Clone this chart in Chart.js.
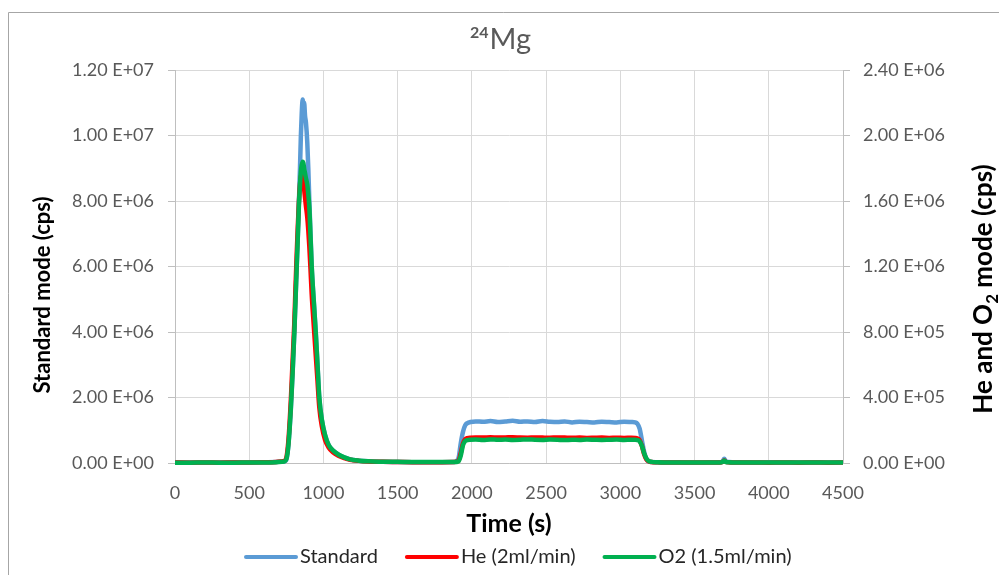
<!DOCTYPE html>
<html>
<head>
<meta charset="utf-8">
<title>24Mg</title>
<script src="https://cdn.jsdelivr.net/npm/chart.js@4.4.1/dist/chart.umd.min.js"></script>
<style>
  html, body { margin: 0; padding: 0; background: #fff; }
  canvas { display: block; }
</style>
</head>
<body>
<canvas id="myChart" width="999" height="575"></canvas>
<script>
// data
const time = [
  0, 100, 200, 300, 400, 500, 600, 680, 720, 740,
  752, 765, 780, 792, 804, 812, 820, 828, 835, 842,
  848, 854, 860, 865, 870, 876, 882, 891, 898, 905,
  913, 921, 934, 948, 960, 972, 990, 1011, 1035, 1064,
  1100, 1140, 1179, 1240, 1300, 1400, 1500, 1600, 1700, 1800,
  1880, 1910, 1925, 1940, 1955, 1970, 1990,
  2025, 2075, 2125, 2175, 2225, 2275, 2325, 2375, 2425, 2475,
  2525, 2575, 2625, 2675, 2725, 2775, 2825, 2875, 2925, 2975,
  3025, 3075,
  3100, 3115, 3130, 3145, 3160, 3175, 3190, 3210, 3250, 3300,
  3400, 3500, 3600, 3670, 3690, 3700, 3710, 3730, 3760, 3800,
  3900, 4000, 4100, 4200, 4300, 4400, 4500
];

// Standard mode, left axis (cps)
const standard = [
  2.0e4, 1.5e4, 1.8e4, 1.6e4, 2.0e4, 1.8e4, 2.5e4, 3.0e4, 4.0e4, 5.0e4,
  1.2e5, 6.0e5, 1.6e6, 2.7e6, 4.0e6, 5.0e6, 6.0e6, 7.0e6, 8.0e6, 9.0e6,
  1.0e7, 1.07e7, 1.11e7, 1.08e7, 1.10e7, 1.06e7, 1.04e7, 9.8e6, 9.0e6, 8.0e6,
  7.0e6, 6.0e6, 5.0e6, 4.0e6, 3.0e6, 2.0e6, 1.3e6, 8.5e5, 5.5e5, 3.8e5,
  2.6e5, 1.7e5, 1.1e5, 7.0e4, 5.0e4, 3.5e4, 3.0e4, 2.5e4, 2.5e4, 2.5e4,
  3.0e4, 1.5e5, 6.0e5, 9.5e5, 1.15e6, 1.22e6, 1.25e6,
  1.27e6, 1.26e6, 1.28e6, 1.25e6, 1.27e6, 1.29e6, 1.26e6, 1.27e6, 1.25e6, 1.28e6,
  1.26e6, 1.25e6, 1.27e6, 1.24e6, 1.26e6, 1.25e6, 1.24e6, 1.26e6, 1.25e6, 1.24e6,
  1.26e6, 1.25e6,
  1.24e6, 1.2e6, 1.05e6, 7.0e5, 3.5e5, 1.3e5, 5.0e4, 3.0e4, 2.5e4, 2.0e4,
  2.0e4, 1.8e4, 2.0e4, 2.0e4, 6.0e4, 1.3e5, 6.0e4, 3.0e4, 2.5e4, 2.0e4,
  1.5e4, 2.0e4, 1.8e4, 1.5e4, 2.0e4, 1.8e4, 1.5e4
];

// He (2ml/min), right axis (cps)
const helium = [
  3e3, 2e3, 3e3, 2e3, 3e3, 3e3, 4e3, 6e3, 1.0e4, 1.5e4,
  4.0e4, 1.5e5, 3.8e5, 6.2e5, 8.6e5, 1.08e6, 1.28e6, 1.46e6, 1.6e6, 1.7e6,
  1.75e6, 1.76e6, 1.74e6, 1.71e6, 1.67e6, 1.62e6, 1.57e6, 1.5e6, 1.42e6, 1.32e6,
  1.18e6, 1.03e6, 8.5e5, 6.6e5, 5.0e5, 3.4e5, 2.2e5, 1.4e5, 9.5e4, 6.5e4,
  4.4e4, 3.0e4, 2.0e4, 1.3e4, 9.0e3, 7.0e3, 6.0e3, 5.0e3, 5.0e3, 5.0e3,
  6.0e3, 1.5e4, 6.0e4, 1.2e5, 1.45e5, 1.52e5, 1.55e5,
  1.56e5, 1.55e5, 1.57e5, 1.55e5, 1.56e5, 1.58e5, 1.55e5, 1.54e5, 1.56e5, 1.55e5,
  1.54e5, 1.56e5, 1.55e5, 1.54e5, 1.55e5, 1.53e5, 1.54e5, 1.55e5, 1.53e5, 1.54e5,
  1.53e5, 1.54e5,
  1.53e5, 1.5e5, 1.4e5, 1.05e5, 5.5e4, 2.2e4, 1.0e4, 6.0e3, 4.0e3, 3.0e3,
  3.0e3, 3.0e3, 3.0e3, 3.0e3, 8.0e3, 1.5e4, 8.0e3, 4.0e3, 3.0e3, 3.0e3,
  3.0e3, 2.0e3, 3.0e3, 2.0e3, 3.0e3, 2.0e3, 3.0e3
];

// O2 (1.5ml/min), right axis (cps)
const oxygen = [
  2e3, 2e3, 3e3, 2e3, 2e3, 3e3, 3e3, 5e3, 8e3, 1.2e4,
  3.0e4, 1.2e5, 3.3e5, 5.5e5, 8.0e5, 1.0e6, 1.2e6, 1.4e6, 1.58e6, 1.7e6,
  1.78e6, 1.82e6, 1.84e6, 1.83e6, 1.8e6, 1.77e6, 1.74e6, 1.7e6, 1.64e6, 1.56e6,
  1.38e6, 1.2e6, 1.0e6, 8.0e5, 6.0e5, 4.0e5, 2.6e5, 1.7e5, 1.1e5, 7.7e4,
  5.2e4, 3.4e4, 2.2e4, 1.4e4, 1.0e4, 8.0e3, 7.0e3, 6.0e3, 6.0e3, 6.0e3,
  6.0e3, 1.0e4, 4.5e4, 1.1e5, 1.35e5, 1.4e5, 1.42e5,
  1.43e5, 1.41e5, 1.44e5, 1.42e5, 1.43e5, 1.41e5, 1.42e5, 1.44e5, 1.42e5, 1.41e5,
  1.43e5, 1.42e5, 1.40e5, 1.42e5, 1.41e5, 1.43e5, 1.42e5, 1.41e5, 1.42e5, 1.43e5,
  1.41e5, 1.42e5,
  1.42e5, 1.4e5, 1.32e5, 1.05e5, 6.0e4, 2.8e4, 1.3e4, 7.0e3, 4.0e3, 3.0e3,
  3.0e3, 3.0e3, 3.0e3, 3.0e3, 8.0e3, 1.6e4, 7.0e3, 4.0e3, 3.0e3, 3.0e3,
  3.0e3, 3.0e3, 3.0e3, 3.0e3, 3.0e3, 3.0e3, 3.0e3
];

const labels = ['Standard', 'He (2ml/min)', 'O2 (1.5ml/min)'];
const colors = ['#5b9bd5', '#ff0000', '#00b050'];

// "1.20 E+07" style labels
function sci(v) {
  if (v === 0) return '0.00 E+00';
  const e = Math.floor(Math.log10(v) + 1e-9);
  const m = v / Math.pow(10, e);
  return m.toFixed(2) + ' E+' + String(e).padStart(2, '0');
}

function pts(ys) {
  return time.map((t, i) => ({ x: t, y: ys[i] }));
}

const tickFont = { family: 'Lato', size: 18 };

// frame, title, axis titles and legend
const decor = {
  id: 'decor',
  beforeDraw(chart) {
    const c = chart.ctx;
    c.save();
    c.fillStyle = '#fff';
    c.fillRect(0, 0, chart.width, chart.height);
    c.strokeStyle = '#a6a6a6';
    c.lineWidth = 1;
    c.beginPath();
    c.moveTo(8.5, chart.height);
    c.lineTo(8.5, 12.5);
    c.lineTo(chart.width, 12.5);
    c.stroke();
    c.restore();
  },
  afterDraw(chart) {
    const c = chart.ctx;
    c.save();
    c.textBaseline = 'alphabetic';

    // title
    c.fillStyle = '#595959';
    c.font = 'bold 16px Lato';
    const wSup = c.measureText('24').width;
    c.font = '29px Lato';
    const wMain = c.measureText('Mg').width;
    let tx = 500 - (wSup + wMain) / 2;
    c.textAlign = 'left';
    c.font = 'bold 16px Lato';
    c.fillText('24', tx, 38);
    c.font = '29px Lato';
    c.fillText('Mg', tx + wSup + 1, 49);

    // axis titles
    c.fillStyle = '#000';
    c.font = 'bold 25px Lato';
    c.textAlign = 'center';
    c.fillText('Time (s)', 509, 532);

    c.save();
    c.font = 'bold 22px Lato';
    c.translate(50, 295);
    c.rotate(-Math.PI / 2);
    c.fillText('Standard mode (cps)', 0, 0);
    c.restore();

    c.save();
    c.translate(992, 289);
    c.rotate(-Math.PI / 2);
    const a = 'He and O', b = ' mode (cps)';
    c.font = 'bold 26px Lato';
    const wa = c.measureText(a).width, wb = c.measureText(b).width;
    c.font = 'bold 17px Lato';
    const ws = c.measureText('2').width;
    let x = -(wa + ws + wb) / 2;
    c.textAlign = 'left';
    c.font = 'bold 26px Lato';
    c.fillText(a, x, 0);
    c.font = 'bold 17px Lato';
    c.fillText('2', x + wa, 6);
    c.font = 'bold 26px Lato';
    c.fillText(b, x + wa + ws, 0);
    c.restore();

    // legend
    c.font = '20px Lato';
    c.fillStyle = '#262626';
    c.textAlign = 'left';
    c.textBaseline = 'middle';
    let lx = 244;
    const ly = 557;
    labels.forEach((lab, i) => {
      c.strokeStyle = colors[i];
      c.lineWidth = 4;
      c.lineCap = 'round';
      c.beginPath();
      c.moveTo(lx + 2, ly);
      c.lineTo(lx + 52, ly);
      c.stroke();
      c.fillText(lab, lx + 56, ly);
      lx += 56 + c.measureText(lab).width + 27;
    });
    c.restore();
  }
};

const data = {
  datasets: [
    { label: labels[0], data: pts(standard), yAxisID: 'y', borderColor: colors[0], order: 2 },
    { label: labels[1], data: pts(helium), yAxisID: 'y1', borderColor: colors[1], order: 1 },
    { label: labels[2], data: pts(oxygen), yAxisID: 'y1', borderColor: colors[2], order: 0 }
  ].map(d => Object.assign(d, {
    borderWidth: 4.5,
    pointRadius: 0,
    cubicInterpolationMode: 'monotone',
    clip: 6
  }))
};

const config = {
  type: 'line',
  data: data,
  options: {
    responsive: false,
    animation: false,
    layout: { padding: { top: 70, left: 0, right: 0, bottom: 0 } },
    plugins: {
      legend: { display: false },
      title: { display: false },
      tooltip: { enabled: false }
    },
    scales: {
      x: {
        type: 'linear',
        min: 0,
        max: 4500,
        ticks: { stepSize: 500, callback: v => String(v), color: '#595959', font: tickFont, padding: 19, maxRotation: 0 },
        grid: { color: '#d9d9d9', drawTicks: false },
        border: { color: '#bfbfbf' },
        afterFit(s) { s.height = 112; }
      },
      y: {
        position: 'left',
        min: 0,
        max: 1.2e7,
        ticks: { stepSize: 2e6, callback: sci, color: '#595959', font: tickFont, padding: 14 },
        grid: { color: '#d9d9d9', tickLength: 7, tickColor: '#bfbfbf' },
        border: { color: '#bfbfbf' },
        afterFit(s) { s.width = 175; }
      },
      y1: {
        position: 'right',
        min: 0,
        max: 2.4e6,
        ticks: { stepSize: 4e5, callback: sci, color: '#595959', font: tickFont, padding: 13 },
        grid: { drawOnChartArea: false, tickLength: 7, tickColor: '#bfbfbf' },
        border: { color: '#bfbfbf' },
        afterFit(s) { s.width = 156; }
      }
    }
  },
  plugins: [decor]
};

const myChart = new Chart(document.getElementById('myChart'), config);
</script>
</body>
</html>
